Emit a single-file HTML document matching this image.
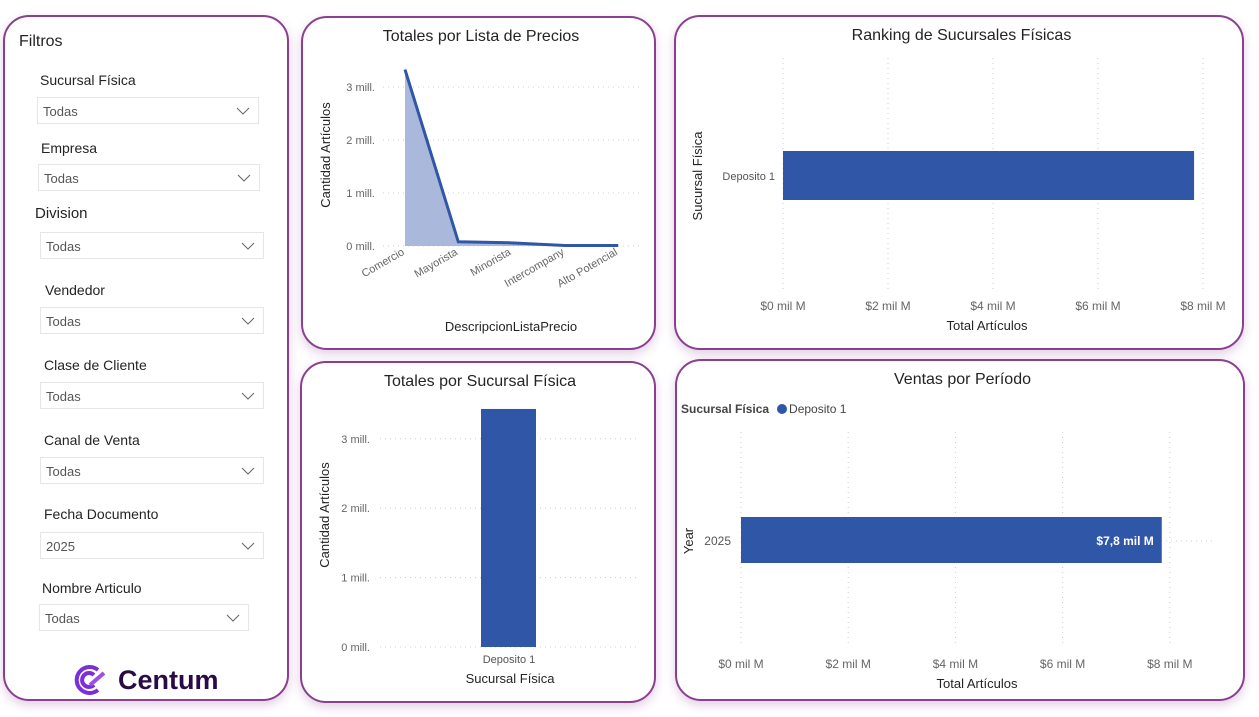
<!DOCTYPE html>
<html><head><meta charset="utf-8">
<style>
*{box-sizing:border-box;margin:0;padding:0}
body{width:1259px;height:717px;background:#fff;font-family:"Liberation Sans",sans-serif;position:relative;overflow:hidden;color:#252423}
.panel{position:absolute;border:2px solid #8b3f8f;border-radius:26px;background:#fff;box-shadow:0 4px 10px rgba(140,60,150,0.25)}
.lbl{position:absolute;font-size:14px;color:#252423}
.dd{position:absolute;height:27px;border:1px solid #e6e6e6;background:#fff;font-size:13px;color:#555;padding:6px 5px}
.dd svg{position:absolute;right:8px;top:9px}
svg text{font-family:"Liberation Sans",sans-serif}
.title{position:absolute;font-size:16px;color:#252423;text-align:center;z-index:6}
</style></head><body>

<div class="panel" style="left:3px;top:15px;width:286px;height:686px"></div>
<div class="lbl" style="left:19px;top:33px;font-size:16px">Filtros</div>

<div id="filters"></div>

<div style="position:absolute;left:72px;top:663px;height:34px;display:flex;align-items:center">
<svg width="38" height="34" viewBox="0 0 38 34"><path d="M26 7 A13 13 0 1 0 26 27" fill="none" stroke="#7b2fd8" stroke-width="4"/><path d="M22 12 A7 7 0 1 0 22 22" fill="none" stroke="#7b2fd8" stroke-width="4"/><path d="M18 22 L32 10" stroke="#9b4fe8" stroke-width="4"/></svg>
<span style="font-size:27px;font-weight:bold;color:#2a0a45;margin-left:8px">Centum</span></div>

<!-- Panel 2 -->
<div class="panel" style="left:301px;top:16px;width:355px;height:334px"></div>
<div class="title" style="left:301px;top:28px;width:360px">Totales por Lista de Precios</div>

<!-- Panel 3 -->
<div class="panel" style="left:674px;top:15px;width:570px;height:335px"></div>
<div class="title" style="left:674px;top:27px;width:575px">Ranking de Sucursales Físicas</div>

<!-- Panel 4 -->
<div class="panel" style="left:300px;top:361px;width:356px;height:342px"></div>
<div class="title" style="left:300px;top:373px;width:360px">Totales por Sucursal Física</div>

<!-- Panel 5 -->
<div class="panel" style="left:675px;top:359px;width:570px;height:342px"></div>
<div class="title" style="left:675px;top:371px;width:575px">Ventas por Período</div>
<div style="position:absolute;z-index:6;left:681px;top:402px;font-size:12px;color:#444;display:flex;align-items:center">
<b style="color:#444">Sucursal Física</b><span style="display:flex;align-items:center;margin-left:8px"><span style="width:10px;height:10px;border-radius:50%;background:#3056a8;display:inline-block;margin-right:2px"></span>Deposito 1</span></div>

<svg id="c1" style="position:absolute;left:0;top:0;z-index:5;pointer-events:none" width="1259" height="717"></svg>

<script>
// filters
const filterLabels=["Sucursal Física","Empresa","Division","Vendedor","Clase de Cliente","Canal de Venta","Fecha Documento","Nombre Articulo"];
const filterValues=["Todas","Todas","Todas","Todas","Todas","Todas","2025","Todas"];
const fl=[[40,72,37,97,222],[41,140,38,164,222],[35,205,40,232,224],[45,282,40,307,224],[44,357,40,382,224],[44,432,40,457,224],[44,506,40,532,224],[42,580,39,604,210]];
const fwrap=document.getElementById('filters');
filterLabels.forEach((t,i)=>{
  const f=fl[i];
  const l=document.createElement('div');l.className='lbl';l.style.left=f[0]+'px';l.style.top=f[1]+'px';
  if(i===2)l.style.fontSize='15px';
  l.textContent=t;
  
  
  fwrap.appendChild(l);
  const d=document.createElement('div');d.className='dd';d.style.left=f[2]+'px';d.style.top=f[3]+'px';d.style.width=f[4]+'px';
  d.innerHTML=filterValues[i]+'<svg width="14" height="8"><path d="M1 1 L7 7 L13 1" fill="none" stroke="#666" stroke-width="1"/></svg>';
  
  
  fwrap.appendChild(d);
});

// chart data
const c1Categories=["Comercio","Mayorista","Minorista","Intercompany","Alto Potencial"];
const c1Values=[3.33,0.08,0.06,0.01,0.01];
const c1Ticks=[0,1,2,3];
const c3Categories=["Deposito 1"];
const c3Values=[7.83];
const c3Ticks=[0,2,4,6,8];
const c4Categories=["Deposito 1"];
const c4Values=[3.43];
const c4Ticks=[0,1,2,3];
const c5Categories=["2025"];
const c5Values=[7.85];
const c5Ticks=[0,2,4,6,8];
const c5Labels=["$7,8 mil M"];

const svg=document.getElementById('c1');const NS='http://www.w3.org/2000/svg';
function el(tag,attrs,name,text){const e=document.createElementNS(NS,tag);for(const k in attrs)e.setAttribute(k,attrs[k]);
  
  
  if(text!==undefined)e.textContent=text;svg.appendChild(e);return e;}

// chart 1
const y1=v=>246-v*53, x1=i=>405+i*53.3;
c1Ticks.forEach(t=>{el('line',{x1:383,x2:640,y1:y1(t),y2:y1(t),stroke:'#ccc','stroke-dasharray':'1 4'},'gridline');
  el('text',{x:375,y:y1(t)+4,'text-anchor':'end','font-size':11,fill:'#666'},'y-tick-label',t+' mill.');});
let pts=c1Values.map((v,i)=>x1(i)+','+y1(v)).join(' ');
el('polygon',{points:x1(0)+','+y1(0)+' '+pts+' '+x1(c1Values.length-1)+','+y1(0),fill:'#aab9db'},'area-fill');
el('polyline',{points:pts,fill:'none',stroke:'#3056a8','stroke-width':3},'line-series');
c1Categories.forEach((c,i)=>el('text',{x:x1(i),y:254,'text-anchor':'end','font-size':11,fill:'#666',transform:`rotate(-30 ${x1(i)} 254)`},'x-tick-label',c));
el('text',{x:511,y:331,'text-anchor':'middle','font-size':13,fill:'#252423'},'x-axis-title','DescripcionListaPrecio');
el('text',{x:330,y:155,'text-anchor':'middle','font-size':13,fill:'#252423',transform:'rotate(-90 330 155)'},'y-axis-title','Cantidad Artículos');

// chart 3
const x3=v=>783+v*52.5;
c3Ticks.forEach(t=>{el('line',{x1:x3(t),x2:x3(t),y1:58,y2:290,stroke:'#ccc','stroke-dasharray':'1 4'},'gridline');
  el('text',{x:x3(t),y:310,'text-anchor':'middle','font-size':12,fill:'#666'},'x-tick-label','$'+t+' mil M');});
c3Values.forEach((v,i)=>{el('rect',{x:x3(0),y:151,width:x3(v)-x3(0),height:49,fill:'#3056a8'},'bar-deposito-1');
  el('text',{x:775,y:180,'text-anchor':'end','font-size':11,fill:'#555'},'y-tick-label',c3Categories[i]);});
el('text',{x:987,y:330,'text-anchor':'middle','font-size':13,fill:'#252423'},'x-axis-title','Total Artículos');
el('text',{x:702,y:176,'text-anchor':'middle','font-size':13,fill:'#252423',transform:'rotate(-90 702 176)'},'y-axis-title','Sucursal Física');

// chart 4
const y4=v=>647-v*69.4;
c4Ticks.forEach(t=>{el('line',{x1:380,x2:640,y1:y4(t),y2:y4(t),stroke:'#ccc','stroke-dasharray':'1 4'},'gridline');
  el('text',{x:370,y:y4(t)+4,'text-anchor':'end','font-size':11,fill:'#666'},'y-tick-label',t+' mill.');});
c4Values.forEach((v,i)=>{el('rect',{x:481,y:y4(v),width:55,height:y4(0)-y4(v),fill:'#3056a8'},'bar-deposito-1');
  el('text',{x:509,y:663,'text-anchor':'middle','font-size':11,fill:'#555'},'x-tick-label',c4Categories[i]);});
el('text',{x:510,y:683,'text-anchor':'middle','font-size':13,fill:'#252423'},'x-axis-title','Sucursal Física');
el('text',{x:329,y:515,'text-anchor':'middle','font-size':13,fill:'#252423',transform:'rotate(-90 329 515)'},'y-axis-title','Cantidad Artículos');

// chart 5
const x5=v=>741+v*53.6;
c5Ticks.forEach(t=>{el('line',{x1:x5(t),x2:x5(t),y1:432,y2:645,stroke:'#ccc','stroke-dasharray':'1 4'},'gridline');
  el('text',{x:x5(t),y:668,'text-anchor':'middle','font-size':12,fill:'#666'},'x-tick-label','$'+t+' mil M');});
el('line',{x1:741,x2:1215,y1:541,y2:541,stroke:'#ccc','stroke-dasharray':'1 4'},'gridline');
c5Values.forEach((v,i)=>{el('rect',{x:x5(0),y:517,width:x5(v)-x5(0),height:46,fill:'#3056a8'},'bar-2025');
  el('text',{x:x5(v)-8,y:545,'text-anchor':'end','font-size':12,'font-weight':'bold',fill:'#fff'},'data-label',c5Labels[i]);
  el('text',{x:731,y:545,'text-anchor':'end','font-size':12,fill:'#555'},'y-tick-label',c5Categories[i]);});
el('text',{x:977,y:688,'text-anchor':'middle','font-size':13,fill:'#252423'},'x-axis-title','Total Artículos');
el('text',{x:693,y:541,'text-anchor':'middle','font-size':13,fill:'#252423',transform:'rotate(-90 693 541)'},'y-axis-title','Year');
</script>
</body></html>
